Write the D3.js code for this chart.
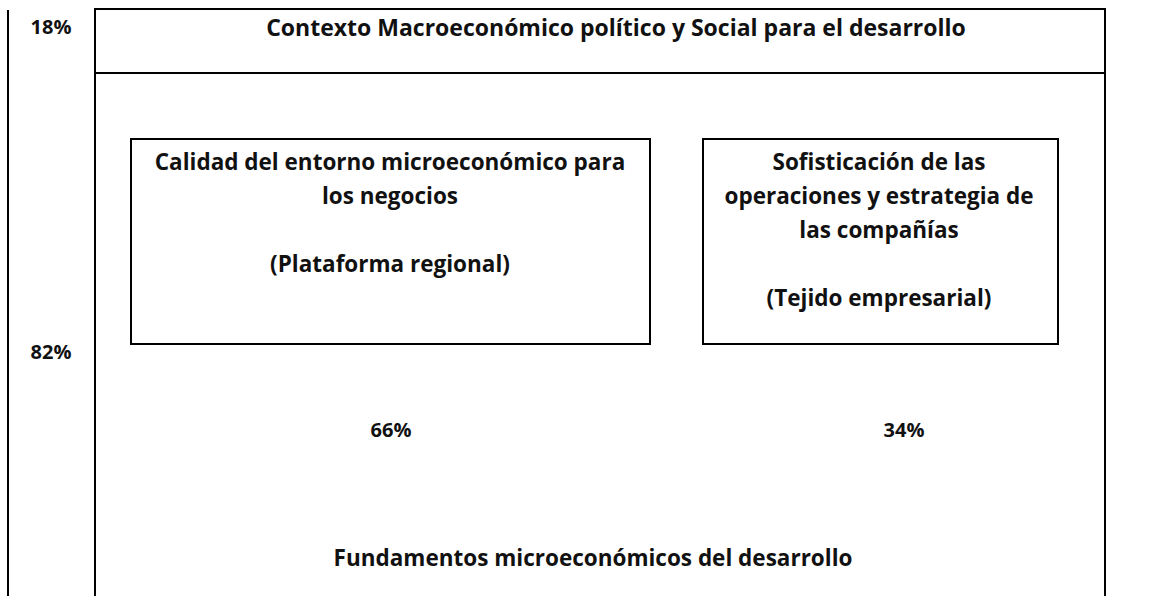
<script src="https://cdn.jsdelivr.net/npm/d3@7/dist/d3.min.js"></script>
<style>body { margin: 0; }</style>

<svg id="chart" width=1155 height=596></svg>

<script>
  "use strict";
  const WIDTH = 1155;
  const HEIGHT = 596;

  // levels of the diagram and their shares
  const levelNames = ["Contexto Macroeconómico político y Social para el desarrollo",
                      "Fundamentos microeconómicos del desarrollo"];
  const levelShares = ["18%", "82%"];

  // the two microeconomic boxes
  const microLines = [
    ["Calidad del entorno microeconómico para", "los negocios", "", "(Plataforma regional)"],
    ["Sofisticación de las", "operaciones y estrategia de", "las compañías", "", "(Tejido empresarial)"]
  ];
  const microShares = ["66%", "34%"];

  const FONT = "'Open Sans', 'Noto Sans', sans-serif";
  const TEXT_SIZE = 22.5;
  const SHARE_SIZE = 20;
  const LINE_H = 34;

  const svg = d3.select("#chart").style("background", "#fff").style("display", "block");

  // outer frame
  const OUTER_L = 95, OUTER_R = 1105, OUTER_T = 9, SPLIT_Y = 73;
  const BOX_T = 139, BOX_B = 344;
  const boxX = [[131, 650], [703, 1058]];

  svg.append("line")
    .attr("x1", 8).attr("x2", 8).attr("y1", 10).attr("y2", HEIGHT)
    .attr("stroke", "#000").attr("stroke-width", 2);

  svg.append("path")
    .attr("d", `M${OUTER_L},${HEIGHT} V${OUTER_T} H${OUTER_R} V${HEIGHT}`)
    .attr("fill", "none").attr("stroke", "#000").attr("stroke-width", 2);

  svg.append("line")
    .attr("x1", OUTER_L).attr("x2", OUTER_R).attr("y1", SPLIT_Y).attr("y2", SPLIT_Y)
    .attr("stroke", "#000").attr("stroke-width", 2);

  // inner boxes
  svg.selectAll("rect.micro")
    .data(microLines)
    .enter()
    .append("rect")
    .attr("class", "micro")
    .attr("x", (d, i) => boxX[i][0])
    .attr("y", BOX_T)
    .attr("width", (d, i) => boxX[i][1] - boxX[i][0])
    .attr("height", BOX_B - BOX_T)
    .attr("fill", "none")
    .attr("stroke", "#000")
    .attr("stroke-width", 2);

  const label = (x, y, txt, size) => svg.append("text")
    .attr("x", x).attr("y", y)
    .attr("text-anchor", "middle")
    .attr("font-family", FONT)
    .attr("font-weight", 700)
    .attr("font-size", size || TEXT_SIZE)
    .attr("fill", "#111")
    .text(txt);

  // level titles
  label(616, 36, levelNames[0], 23);
  label(593, 566, levelNames[1]);

  // level shares
  label(51, 34, levelShares[0], SHARE_SIZE);
  label(51, 359, levelShares[1], SHARE_SIZE);

  // box texts
  const boxCenters = [390, 879];
  microLines.forEach((lines, i) => {
    lines.forEach((ln, j) => {
      if (ln) label(boxCenters[i], 170 + j * LINE_H, ln);
    });
  });

  // box shares
  const shareX = [391, 904];
  microShares.forEach((s, i) => label(shareX[i], 437, s, SHARE_SIZE));
</script>
